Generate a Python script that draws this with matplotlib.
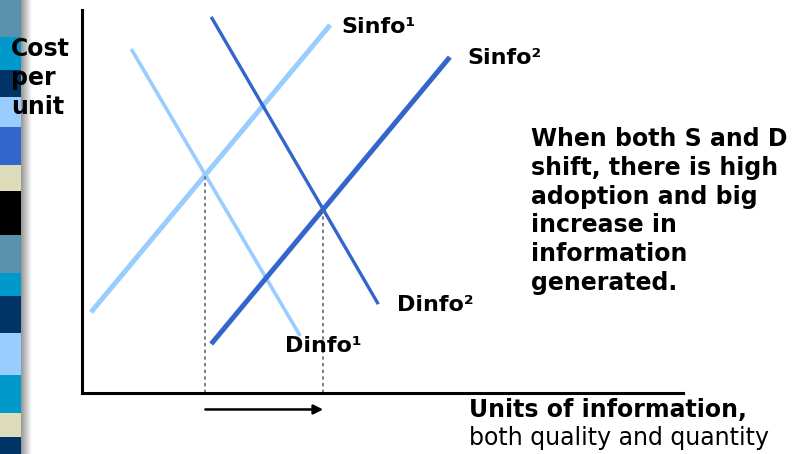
import numpy as np
import matplotlib
matplotlib.use("Agg")
import matplotlib.pyplot as plt
from matplotlib.patches import Rectangle

# curve endpoints, in units of the diagram (0-10 on both axes)
s1_x = [0.15, 4.13]
s1_y = [2.11, 9.61]
d1_x = [0.82, 3.63]
d1_y = [8.98, 1.49]
s2_x = [2.15, 6.12]
s2_y = [1.28, 8.77]
d2_x = [2.15, 4.93]
d2_y = [9.82, 2.32]

curve_labels = ["Sinfo\u00b9", "Dinfo\u00b9", "Sinfo\u00b2", "Dinfo\u00b2"]
y_label = "Cost\nper\nunit"
x_label_bold = "Units of information,"
x_label_normal = "both quality and quantity"
note = "When both S and D\nshift, there is high\nadoption and big\nincrease in\ninformation\ngenerated."

# left decorative strip (top y in px, colour)
strip_edges = [0, 37, 70, 97, 127, 165, 191, 235, 273, 296, 333, 375, 413, 437, 454]
strip_colors = ["#5a92ad", "#0099cc", "#003366", "#99ccff", "#3366cc", "#ddddbb",
                "#000000", "#5a92ad", "#0099cc", "#003366", "#99ccff", "#0099cc",
                "#ddddbb", "#003366"]

light = "#99ccff"
dark = "#3366cc"


def crossing(ax1, ay1, bx1, by1):
    # intersection of two straight segments given by endpoints
    m1 = (ay1[1] - ay1[0]) / (ax1[1] - ax1[0])
    m2 = (by1[1] - by1[0]) / (bx1[1] - bx1[0])
    x = (by1[0] - ay1[0] + m1 * ax1[0] - m2 * bx1[0]) / (m1 - m2)
    return x, ay1[0] + m1 * (x - ax1[0])


W, H = 793, 454
fig = plt.figure(figsize=(W / 100, H / 100), dpi=100)
fig.patch.set_facecolor("white")

# strip + shadow
sax = fig.add_axes([0, 0, 1, 1])
sax.axis("off")
for i, c in enumerate(strip_colors):
    sax.add_patch(Rectangle((0, strip_edges[i]), 21, strip_edges[i + 1] - strip_edges[i],
                            facecolor=c, edgecolor="none"))
grad = np.linspace(0.55, 1.0, 64).reshape(1, -1)
sax.imshow(grad, cmap="gray", vmin=0, vmax=1, extent=[20, 32, H, 0], aspect="auto")
sax.set_xlim(0, W)
sax.set_ylim(H, 0)

# main diagram axes
ax = fig.add_axes([82 / W, 61 / H, 601 / W, 383 / H])
ax.set_xlim(0, 10)
ax.set_ylim(0, 10)
ax.patch.set_alpha(0)
for sp in ["top", "right"]:
    ax.spines[sp].set_visible(False)
ax.spines["left"].set_linewidth(2.2)
ax.spines["bottom"].set_linewidth(2.2)
ax.set_xticks([])
ax.set_yticks([])

ax.plot(s1_x, s1_y, color=light, lw=3.6, solid_capstyle="butt")
ax.plot(d1_x, d1_y, color=light, lw=2.6, solid_capstyle="butt")
ax.plot(s2_x, s2_y, color=dark, lw=3.6, solid_capstyle="butt")
ax.plot(d2_x, d2_y, color=dark, lw=2.4, solid_capstyle="butt")

e1 = crossing(s1_x, s1_y, d1_x, d1_y)
e2 = crossing(s2_x, s2_y, d2_x, d2_y)
for ex, ey in [e1, e2]:
    ax.plot([ex, ex], [0, ey], color="#666666", lw=1.2, ls=(0, (2, 2)))

ax.annotate("", xy=(e2[0], -0.43), xytext=(e1[0], -0.43),
            arrowprops=dict(arrowstyle="-|>", color="black", lw=1.8,
                            mutation_scale=14, shrinkA=0, shrinkB=0),
            annotation_clip=False)

fs = 17
lfs = 16
# curve labels placed in figure pixels (from top)
def px_text(x, y, s, **kw):
    fig.text(x / W, 1 - y / H, s, **kw)

px_text(341, 27, curve_labels[0], fontsize=lfs, fontweight="bold", va="center", ha="left")
px_text(467, 58, curve_labels[2], fontsize=lfs, fontweight="bold", va="center", ha="left")
px_text(397, 305, curve_labels[3], fontsize=lfs, fontweight="bold", va="center", ha="left")
px_text(285, 346, curve_labels[1], fontsize=lfs, fontweight="bold", va="center", ha="left")

px_text(11, 78, y_label, fontsize=fs, fontweight="bold", va="center", ha="left",
        linespacing=1.26)
px_text(531, 211, note, fontsize=fs, fontweight="bold", va="center", ha="left",
        linespacing=1.26)
px_text(469, 410, x_label_bold, fontsize=fs, fontweight="bold", va="center", ha="left")
px_text(469, 438, x_label_normal, fontsize=fs, va="center", ha="left")

fig.savefig("out.png", dpi=100)
